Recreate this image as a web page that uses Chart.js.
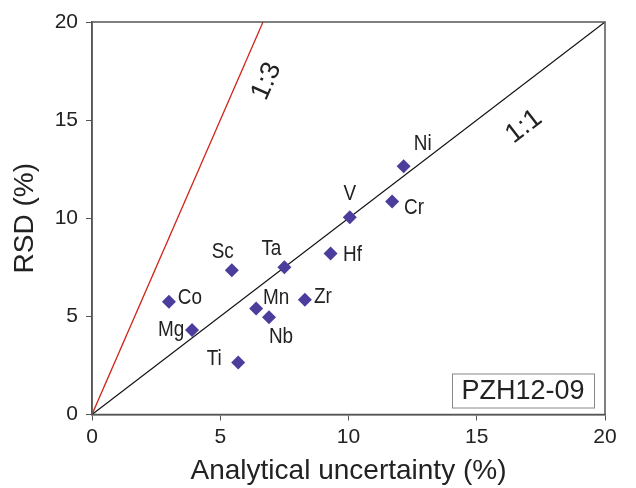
<!DOCTYPE html>
<html>
<head>
<meta charset="utf-8">
<script src="https://cdn.jsdelivr.net/npm/chart.js@4"></script>
<style>
  html, body { margin:0; padding:0; background:#fff; }
  #chart { display:block; }
</style>
</head>
<body>
<canvas id="chart" width="636" height="488"></canvas>
<script>
// element data
const elements = ['Ni','Cr','V','Hf','Ta','Sc','Co','Mg','Mn','Nb','Zr','Ti'];
const uncertainty = [12.15, 11.7, 10.05, 9.3, 7.5, 5.45, 3.0, 3.9, 6.4, 6.9, 8.3, 5.7];
const rsd = [12.65, 10.85, 10.05, 8.2, 7.5, 7.35, 5.75, 4.3, 5.4, 4.95, 5.85, 2.65];
const xTicks = [0, 5, 10, 15, 20];
const yTicks = [0, 5, 10, 15, 20];
const line11 = [[0, 0], [20, 20]];
const line13 = [[0, 0], [20/3, 20]];
const sampleName = 'PZH12-09';

const FONT = "'Liberation Sans', Arial, sans-serif";
const $ = (id)=>document.getElementById(id);

// label offsets from the diamond, in px
const labelOff = {
  Ni:[19,-22], Cr:[22,6], V:[0,-23], Hf:[22,1], Ta:[-13,-18], Sc:[-9,-18],
  Co:[21,-4], Mg:[-21,0], Mn:[20,-11], Nb:[12,20], Zr:[18,-3], Ti:[-24,-4]
};

// draw text squeezed horizontally (figure uses a narrow face)
function narrowText(ctx, txt, px, py, sx){
  ctx.save();
  ctx.translate(px, py); ctx.scale(sx, 1);
  ctx.fillText(txt, 0, 0);
  ctx.restore();
}

const extras = {
  id:'extras',
  afterDatasetsDraw(chart){
    const {ctx, chartArea:a, scales:{x, y}} = chart;
    ctx.save();
    // frame
    ctx.strokeStyle = '#555'; ctx.lineWidth = 1.5;
    ctx.strokeRect(a.left, a.top, a.right - a.left, a.bottom - a.top);
    // point labels
    ctx.fillStyle = '#222';
    ctx.font = '22px ' + FONT;
    ctx.textAlign = 'center'; ctx.textBaseline = 'middle';
    elements.forEach((el, i)=>{
      const o = labelOff[el];
      narrowText(ctx, el, x.getPixelForValue(uncertainty[i]) + o[0], y.getPixelForValue(rsd[i]) + o[1], 0.86);
    });
    // line ratio labels
    ctx.font = '27px ' + FONT;
    const rot = (txt, vx, vy, ang)=>{
      ctx.save();
      ctx.translate(x.getPixelForValue(vx), y.getPixelForValue(vy));
      ctx.rotate(ang * Math.PI/180);
      ctx.fillText(txt, 0, 0);
      ctx.restore();
    };
    rot('1:3', 6.81, 16.98, -66);
    rot('1:1', 16.84, 14.67, -37.4);
    // sample box
    ctx.font = '27px ' + FONT;
    const bx = 452, bw = 142, bh = 34, by = a.bottom - 41;
    ctx.fillStyle = '#fff'; ctx.fillRect(bx, by, bw, bh);
    ctx.strokeStyle = '#888'; ctx.lineWidth = 1;
    ctx.strokeRect(bx + 0.5, by + 0.5, bw, bh);
    ctx.fillStyle = '#222';
    ctx.fillText(sampleName, bx + bw/2, by + bh/2 + 1);
    ctx.restore();
  }
};

new Chart($('chart'), {
  type:'scatter',
  data:{
    datasets:[
      { label:'1:3', data: line13.map(p=>({x:p[0], y:p[1]})), showLine:true,
        borderColor:'#d0261c', borderWidth:1.3, pointRadius:0, order:3 },
      { label:'1:1', data: line11.map(p=>({x:p[0], y:p[1]})), showLine:true,
        borderColor:'#111', borderWidth:1.2, pointRadius:0, order:2 },
      { label:'elements', data: elements.map((e,i)=>({x:uncertainty[i], y:rsd[i]})),
        pointStyle:'rectRot', pointRadius:7, backgroundColor:'#4a3d9c', borderColor:'#4a3d9c',
        borderWidth:0, order:1 }
    ]
  },
  options:{
    responsive:false, animation:false,
    layout:{ padding:{ left:0, right:31, top:22, bottom:0 } },
    plugins:{ legend:{display:false}, tooltip:{enabled:false} },
    scales:{
      x:{
        type:'linear', min:0, max:20,
        afterBuildTicks:(s)=>{ s.ticks = xTicks.map(v=>({value:v})); },
        afterFit:(s)=>{ s.height = 73.5; },
        ticks:{ color:'#222', font:{size:21, family:FONT}, padding:4, maxRotation:0 },
        grid:{ drawOnChartArea:false, drawTicks:true, tickLength:6, color:'#555' },
        border:{ display:true, color:'#555', width:1.5 },
        title:{ display:true, text:'Analytical uncertainty (%)', color:'#222',
          font:{size:28, family:FONT, lineHeight:1}, padding:{top:0, bottom:3} }
      },
      y:{
        type:'linear', min:0, max:20,
        afterBuildTicks:(s)=>{ s.ticks = yTicks.map(v=>({value:v})); },
        afterFit:(s)=>{ s.width = 92; },
        ticks:{ color:'#222', font:{size:21, family:FONT}, padding:8 },
        grid:{ drawOnChartArea:false, drawTicks:true, tickLength:6, color:'#555' },
        border:{ display:true, color:'#555', width:1.5 },
        title:{ display:true, text:'RSD (%)', color:'#222',
          font:{size:28, family:FONT, lineHeight:1}, padding:{top:11, bottom:0} }
      }
    }
  },
  plugins:[extras]
});
</script>
</body>
</html>
